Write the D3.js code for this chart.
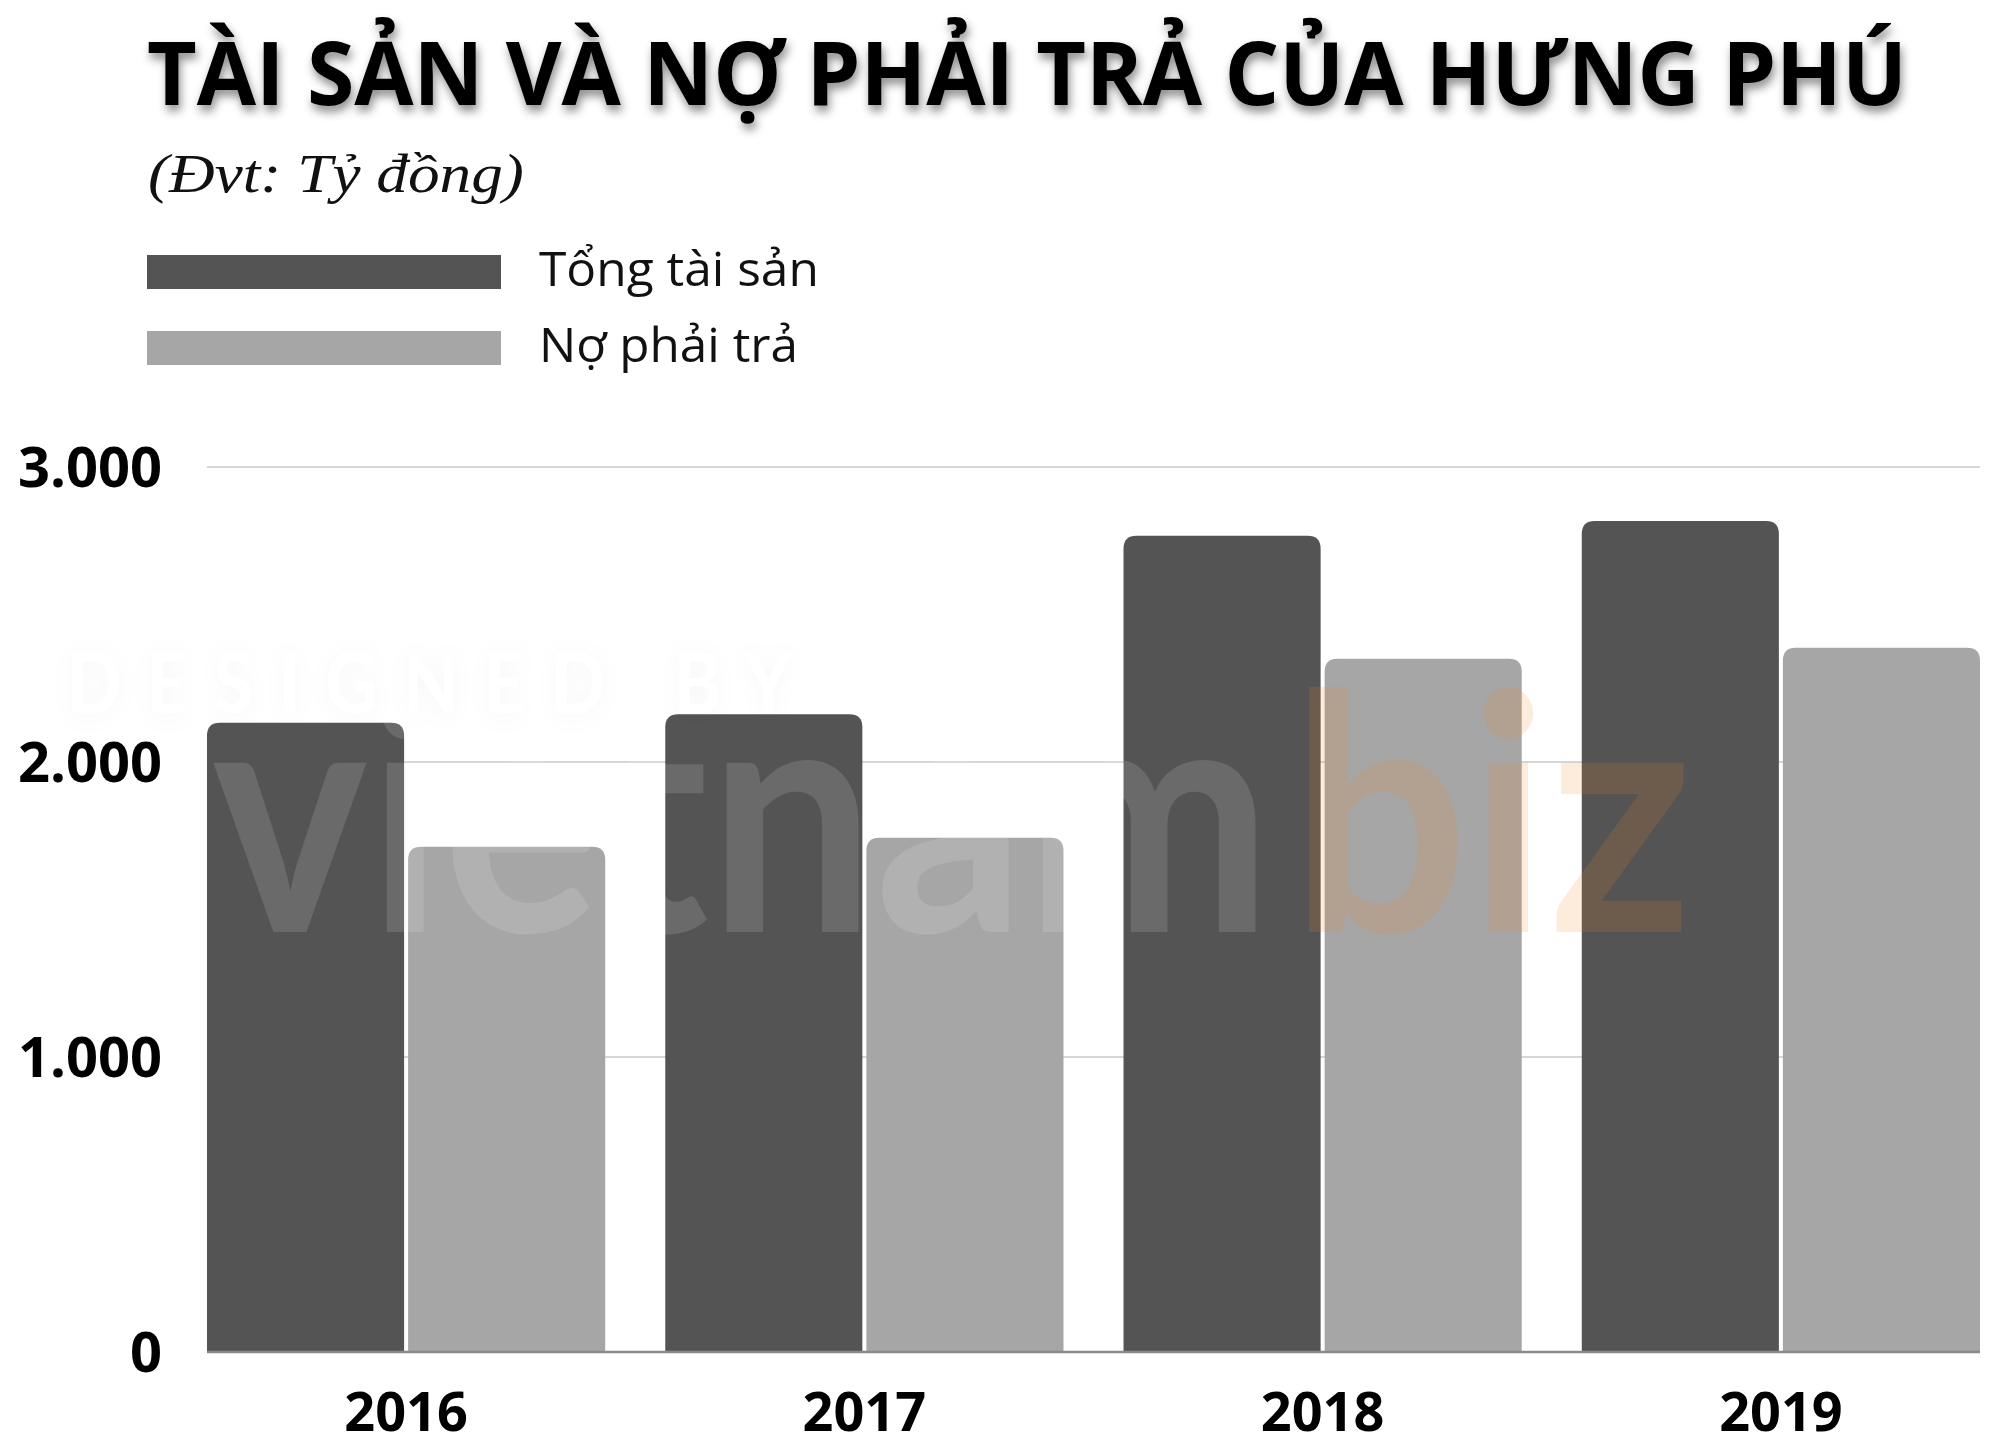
<!DOCTYPE html>
<html>
<head>
<meta charset="utf-8">
<script src="https://cdn.jsdelivr.net/npm/d3@7"></script>
<style>
  html, body { margin: 0; padding: 0; background: #ffffff; }
  svg { display: block; }
</style>
</head>
<body>
<svg id="chart" width="2000" height="1446"></svg>
<script>
// ---- Data (Đvt: Tỷ đồng) ----
const years = ["2016", "2017", "2018", "2019"];
const seriesNames = ["Tổng tài sản", "Nợ phải trả"];
const tongTaiSan = [2133, 2162, 2767, 2817];
const noPhaiTra = [1713, 1743, 2350, 2387];
const yTicks = [0, 1000, 2000, 3000];
const yTickLabels = ["0", "1.000", "2.000", "3.000"];
const titleText = "TÀI SẢN VÀ NỢ PHẢI TRẢ CỦA HƯNG PHÚ";
const subtitleText = "(Đvt: Tỷ đồng)";

const colors = ["#545454", "#a6a6a6"];
const seriesValues = [tongTaiSan, noPhaiTra];

const svg = d3.select("#chart");
const W = 2000, H = 1446;
svg.append("rect").attr("width", W).attr("height", H).attr("fill", "#ffffff");

const defs = svg.append("defs");
const f = defs.append("filter").attr("id", "tshadow")
  .attr("x", "-5%").attr("y", "-30%").attr("width", "110%").attr("height", "180%");
f.append("feDropShadow").attr("dx", 2).attr("dy", 6).attr("stdDeviation", 5)
  .attr("flood-color", "#000").attr("flood-opacity", 0.45);
const f2 = defs.append("filter").attr("id", "wshadow")
  .attr("x", "-10%").attr("y", "-30%").attr("width", "120%").attr("height", "160%");
f2.append("feDropShadow").attr("dx", 0).attr("dy", 3).attr("stdDeviation", 12)
  .attr("flood-color", "#000").attr("flood-opacity", 0.035);

const plotL = 207, plotR = 1980, plotTop = 467, plotBottom = 1352;

const y = d3.scaleLinear().domain([0, 3000]).range([plotBottom, plotTop]);
const x0 = d3.scaleBand().domain(years).range([plotL, plotR]).paddingInner(0.131).paddingOuter(0);
const x1 = d3.scaleBand().domain(seriesNames).range([0, x0.bandwidth()]).paddingInner(0.02);

// Fit a text element horizontally to a target width by scaling about its x
function fitWidth(sel, x, target) {
  const L = sel.node().getComputedTextLength();
  if (L > 0) {
    const k = target / L;
    sel.attr("transform", `translate(${x},0) scale(${k},1) translate(${-x},0)`);
  }
  return sel;
}

// Title
const title = svg.append("text")
  .attr("x", 147).attr("y", 105)
  .attr("font-family", "'Open Sans', 'Noto Sans', sans-serif")
  .attr("font-weight", 700).attr("font-size", 88)
  .attr("fill", "#000")
  .attr("filter", "url(#tshadow)")
  .text(titleText);
fitWidth(title, 147, 1760);

// Subtitle
const sub = svg.append("text")
  .attr("x", 148).attr("y", 192)
  .attr("font-family", "'Liberation Serif', 'DejaVu Serif', serif")
  .attr("font-style", "italic").attr("font-size", 54)
  .attr("fill", "#111")
  .text(subtitleText);
fitWidth(sub, 148, 376);

// Legend
const legend = svg.append("g");
const legendY = [255, 331];
const legendLen = [280, 259];
seriesNames.forEach((name, i) => {
  legend.append("rect")
    .attr("x", 147).attr("y", legendY[i])
    .attr("width", 354).attr("height", 34)
    .attr("fill", colors[i]);
  const t = legend.append("text")
    .attr("x", 539).attr("y", legendY[i] + 31)
    .attr("font-family", "'Open Sans', 'Noto Sans', sans-serif")
    .attr("font-size", 47).attr("fill", "#111")
    .text(name);
  fitWidth(t, 539, legendLen[i]);
});

// Gridlines
const grid = svg.append("g");
grid.selectAll("line.grid").data(yTicks.filter(d => d > 0)).join("line")
  .attr("class", "grid")
  .attr("x1", plotL).attr("x2", plotR)
  .attr("y1", d => y(d)).attr("y2", d => y(d))
  .attr("stroke", "#c8c8c8").attr("stroke-width", 1.5);

// Bars with rounded top corners
function topRounded(x, yTop, w, h, r) {
  r = Math.min(r, w / 2, h);
  return `M${x},${yTop + h}V${yTop + r}Q${x},${yTop} ${x + r},${yTop}H${x + w - r}Q${x + w},${yTop} ${x + w},${yTop + r}V${yTop + h}Z`;
}

const groups = svg.append("g").selectAll("g.year").data(years).join("g")
  .attr("class", "year")
  .attr("transform", d => `translate(${x0(d)},0)`);

groups.selectAll("path").data((d, i) => seriesNames.map((s, j) => ({ s, j, v: seriesValues[j][i] })))
  .join("path")
  .attr("d", d => topRounded(x1(d.s), y(d.v), x1.bandwidth(), y(0) - y(d.v), 13))
  .attr("fill", d => colors[d.j]);

// Watermark (faint)
const wm = svg.append("g").attr("pointer-events", "none");
const wm1 = wm.append("text")
  .attr("x", 67).attr("y", 713)
  .attr("font-family", "Lato, 'Open Sans', sans-serif").attr("font-weight", 700)
  .attr("font-size", 84).attr("letter-spacing", 30)
  .attr("fill", "#ffffff")
  .attr("filter", "url(#wshadow)")
  .text("DESIGNED BY");
fitWidth(wm1, 67, 750);
const wm2 = wm.append("text")
  .attr("x", 212).attr("y", 932)
  .attr("font-family", "Lato, 'Open Sans', sans-serif").attr("font-weight", 700)
  .attr("font-size", 330)
  .attr("fill", "#ffffff").attr("fill-opacity", 0.13)
  .text("vietnam");
fitWidth(wm2, 212, 1060);
const wm3 = wm.append("text")
  .attr("x", 1290).attr("y", 932)
  .attr("font-family", "Lato, 'Open Sans', sans-serif").attr("font-weight", 700)
  .attr("font-size", 330)
  .attr("fill", "#f58220").attr("fill-opacity", 0.16)
  .text("biz");
fitWidth(wm3, 1290, 403);

// Zero axis line
svg.append("line")
  .attr("x1", plotL).attr("x2", plotR)
  .attr("y1", y(0)).attr("y2", y(0))
  .attr("stroke", "#8a8a8a").attr("stroke-width", 2.5);

// Y axis labels
svg.append("g").selectAll("text").data(yTicks).join("text")
  .attr("x", 162).attr("y", d => y(d))
  .attr("dy", "0.36em")
  .attr("text-anchor", "end")
  .attr("font-family", "'Open Sans', 'Noto Sans', sans-serif")
  .attr("font-weight", 700).attr("font-size", 56).attr("fill", "#000")
  .text((d, i) => yTickLabels[i]);

// X axis labels
svg.append("g").selectAll("text").data(years).join("text")
  .attr("x", d => x0(d) + x0.bandwidth() / 2).attr("y", 1431)
  .attr("text-anchor", "middle")
  .attr("font-family", "'Open Sans', 'Noto Sans', sans-serif")
  .attr("font-weight", 700).attr("font-size", 54).attr("fill", "#000")
  .text(d => d);
</script>
</body>
</html>
